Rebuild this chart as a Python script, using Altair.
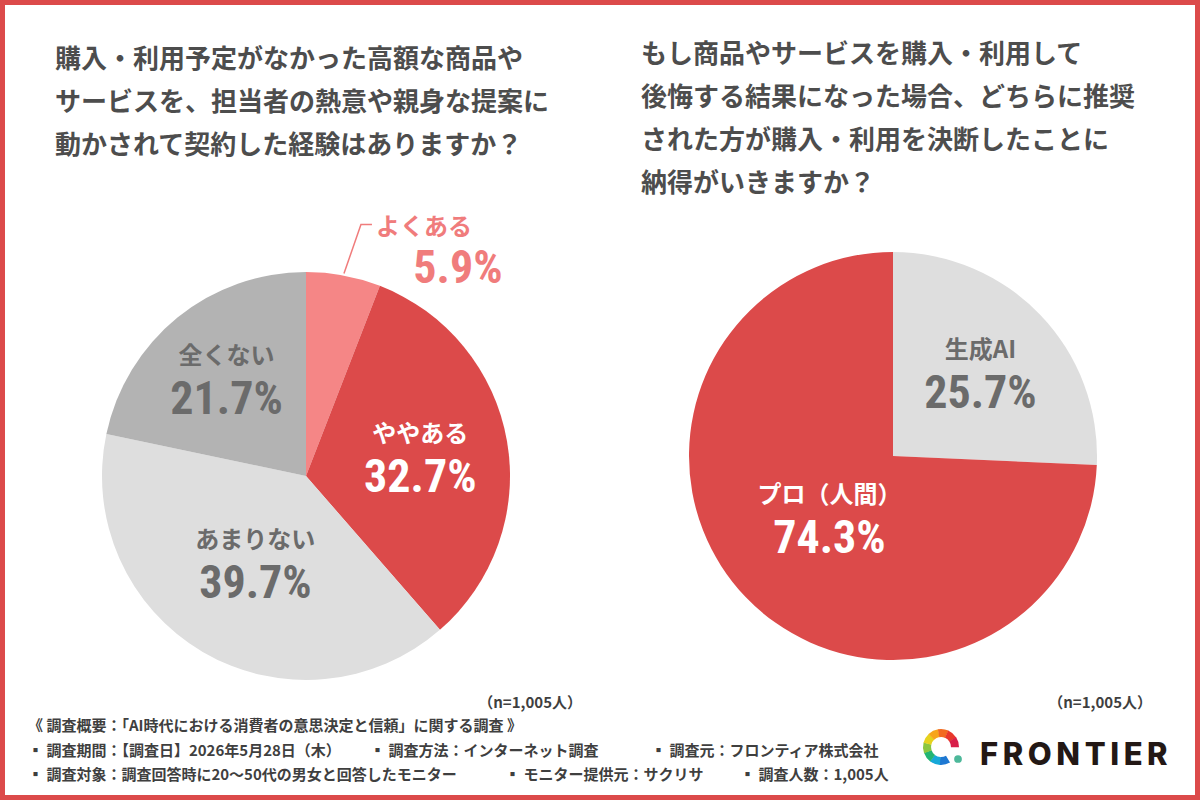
import altair as alt
import numpy as np
import pandas as pd

# ---- survey results -------------------------------------------------------
q1_labels = ["よくある", "ややある", "あまりない", "全くない"]
q1_values = [5.9, 32.7, 39.7, 21.7]

q2_labels = ["生成AI", "プロ（人間）"]
q2_values = [25.7, 74.3]

q1_title = [
    "購入・利用予定がなかった高額な商品や",
    "サービスを、担当者の熱意や親身な提案に",
    "動かされて契約した経験はありますか？",
]
q2_title = [
    "もし商品やサービスを購入・利用して",
    "後悔する結果になった場合、どちらに推奨",
    "された方が購入・利用を決断したことに",
    "納得がいきますか？",
]
sample_note = "（n=1,005人）"

footer_rows = [
    ["《 調査概要：「AI時代における消費者の意思決定と信頼」に関する調査 》"],
    ["▪ 調査期間：【調査日】2026年5月28日（木）", "▪ 調査方法：インターネット調査", "▪ 調査元：フロンティア株式会社"],
    ["▪ 調査対象：調査回答時に20〜50代の男女と回答したモニター", "▪ モニター提供元：サクリサ", "▪ 調査人数：1,005人"],
]
brand = "FRONTIER"

# ---- styling & layout -----------------------------------------------------
W, H = 1200, 800
RED, PINK, LIGHT, DARK = "#DC4A4A", "#F58686", "#DEDEDE", "#B3B3B3"
GRAY_TEXT = "#6B6B6B"
q1_fill = [PINK, RED, LIGHT, DARK]
q1_text = ["#F07C7C", "#FFFFFF", GRAY_TEXT, GRAY_TEXT]
q2_fill = [LIGHT, RED]
q2_text = [GRAY_TEXT, "#FFFFFF"]

PIE_R = 204
Q1_CENTER = (306, 476)
Q2_CENTER = (893, 456)
q1_label_r = [None, 116, 100, 126]   # None -> label sits outside with a leader
q2_label_r = [121, 88]

JP = "Noto Sans CJK JP"
NUM = "Roboto Condensed, Liberation Sans Narrow, Roboto"
NUM_SIZE = 46
XS = dict(scale=None, axis=None)


def mid_angles(values):
    v = np.asarray(values, dtype=float)
    start = np.cumsum(v) - v
    return (start + v / 2) / v.sum() * 2 * np.pi


def polar(center, r, ang):
    return center[0] + r * np.sin(ang), center[1] - r * np.cos(ang)


def pie(labels, values, fills, center):
    df = pd.DataFrame({"label": labels, "value": values, "rank": range(len(labels))})
    return alt.Chart(df).mark_arc(outerRadius=PIE_R).encode(
        theta=alt.Theta("value:Q", stack=True),
        color=alt.Color("label:N", scale=alt.Scale(domain=labels, range=fills), legend=None),
        order=alt.Order("rank:Q"),
        x=alt.value(center[0]),
        y=alt.value(center[1]),
    )


def slice_labels(labels, values, text_colors, center, radii):
    rows = []
    for lab, val, ang, r in zip(labels, values, mid_angles(values), radii):
        if r is None:
            continue
        x, y = polar(center, r, ang)
        rows.append({"label": lab, "pct": f"{val:.1f}%", "x": x, "y": y})
    df = pd.DataFrame(rows)
    col = alt.Color("label:N", scale=alt.Scale(domain=labels, range=text_colors), legend=None)
    base = alt.Chart(df).encode(x=alt.X("x:Q", **XS), y=alt.Y("y:Q", **XS), color=col)
    name = base.mark_text(font=JP, fontSize=24, fontWeight="bold", dy=-21,
                          baseline="middle", align="center").encode(text="label:N")
    pct = base.mark_text(font=NUM, fontSize=NUM_SIZE, fontWeight="bold", dy=22,
                         baseline="middle", align="center").encode(text="pct:N")
    return [name, pct]


def outside_label(labels, values, center, color):
    ang = mid_angles(values)[0]
    sx, sy = polar(center, PIE_R + 2, ang)
    ex, ey = sx + 17, sy - 49
    fx, fy = ex + 11, ey
    line_df = pd.DataFrame({"x": [sx, ex, fx], "y": [sy, ey, fy], "i": [0, 1, 2]})
    leader = alt.Chart(line_df).mark_line(color=color, strokeWidth=1.5).encode(
        x=alt.X("x:Q", **XS), y=alt.Y("y:Q", **XS), order="i:Q")
    txt = pd.DataFrame({"t": [labels[0]], "p": [f"{values[0]:.1f}%"],
                        "x": [fx + 4], "y": [fy + 3], "px": [fx + 86], "py": [fy + 44]})
    name = alt.Chart(txt).mark_text(font=JP, fontSize=24, fontWeight="bold", color=color,
                                    align="left", baseline="middle").encode(
        x=alt.X("x:Q", **XS), y=alt.Y("y:Q", **XS), text="t:N")
    pct = alt.Chart(txt).mark_text(font=NUM, fontSize=NUM_SIZE, fontWeight="bold", color=color,
                                   align="center", baseline="middle").encode(
        x=alt.X("px:Q", **XS), y=alt.Y("py:Q", **XS), text="p:N")
    return [leader, name, pct]


def text_block(lines, x0, y0, step, size, weight, color):
    df = pd.DataFrame({"t": lines, "x": x0, "y": [y0 + i * step for i in range(len(lines))]})
    return alt.Chart(df).mark_text(font=JP, fontSize=size, fontWeight=weight, color=color,
                                   align="left", baseline="middle").encode(
        x=alt.X("x:Q", **XS), y=alt.Y("y:Q", **XS), text="t:N")


# footer pieces placed in columns
footer_x = [[28], [28, 370, 651], [28, 505, 740]]
footer_y = [726, 751, 775]
fdf = pd.DataFrame([
    {"t": t, "x": x, "y": y}
    for row, xs, y in zip(footer_rows, footer_x, footer_y)
    for t, x in zip(row, xs)
])
footer = alt.Chart(fdf).mark_text(font=JP, fontSize=15, fontWeight="bold", color="#3F3F3F",
                                  align="left", baseline="middle").encode(
    x=alt.X("x:Q", **XS), y=alt.Y("y:Q", **XS), text="t:N")

notes = alt.Chart(pd.DataFrame({"t": [sample_note] * 2, "x": [582, 1152], "y": [703, 703]})).mark_text(
    font=JP, fontSize=15, fontWeight="bold", color="#3F3F3F", align="right", baseline="middle"
).encode(x=alt.X("x:Q", **XS), y=alt.Y("y:Q", **XS), text="t:N")

# brand mark: rainbow ring + dot + wordmark
ring_cols = ["#1E78D2", "#17A8D8", "#22B573", "#8CC63F", "#E6D21E", "#F7A51C",
             "#F26B21", "#E8382C", "#D81F4A"]
ring_a0 = np.deg2rad(150)
ring_span = np.deg2rad(300) / len(ring_cols)
ring_df = pd.DataFrame({
    "t0": [ring_a0 + i * ring_span for i in range(len(ring_cols))],
    "t1": [ring_a0 + (i + 1) * ring_span + 0.02 for i in range(len(ring_cols))],
    "c": ring_cols,
})
ring = alt.Chart(ring_df).mark_arc(innerRadius=10, outerRadius=18).encode(
    theta=alt.Theta("t0:Q", scale=None), theta2="t1:Q",
    fill=alt.Fill("c:N", scale=None),
    x=alt.value(941), y=alt.value(747))
dot = alt.Chart(pd.DataFrame({"a": [0]})).mark_circle(size=60, color="#4DB89A", opacity=1).encode(
    x=alt.value(958), y=alt.value(759))
wordmark = alt.Chart(pd.DataFrame({"t": ["\u2009".join(brand)]})).mark_text(
    font="Inter, Lato, DejaVu Sans", fontSize=31, fontWeight=800, color="#231815",
    align="left", baseline="middle"
).encode(x=alt.value(980), y=alt.value(756), text="t:N")

frame = alt.Chart(pd.DataFrame({"a": [0]})).mark_rect(
    fill=None, fillOpacity=0, stroke="#DC4A4A", strokeWidth=5
).encode(x=alt.value(2.5), x2=alt.value(W - 2.5), y=alt.value(2.5), y2=alt.value(H - 2.5))

layers = [
    pie(q1_labels, q1_values, q1_fill, Q1_CENTER),
    pie(q2_labels, q2_values, q2_fill, Q2_CENTER),
    *slice_labels(q1_labels, q1_values, q1_text, Q1_CENTER, q1_label_r),
    *slice_labels(q2_labels, q2_values, q2_text, Q2_CENTER, q2_label_r),
    *outside_label(q1_labels, q1_values, Q1_CENTER, "#F07C7C"),
    text_block(q1_title, 55, 60, 43, 26, "bold", "#4D4D4D"),
    text_block(q2_title, 641, 55, 43, 26, "bold", "#4D4D4D"),
    footer, notes, ring, dot, wordmark, frame,
]

chart = alt.layer(*layers).resolve_scale(
    color="independent", theta="independent"
).properties(
    width=W, height=H, padding=0, autosize=alt.AutoSizeParams(type="none")
).configure_view(stroke=None).configure(background="white")

chart.save("out.html", embed_options={"renderer": "svg", "actions": False})
